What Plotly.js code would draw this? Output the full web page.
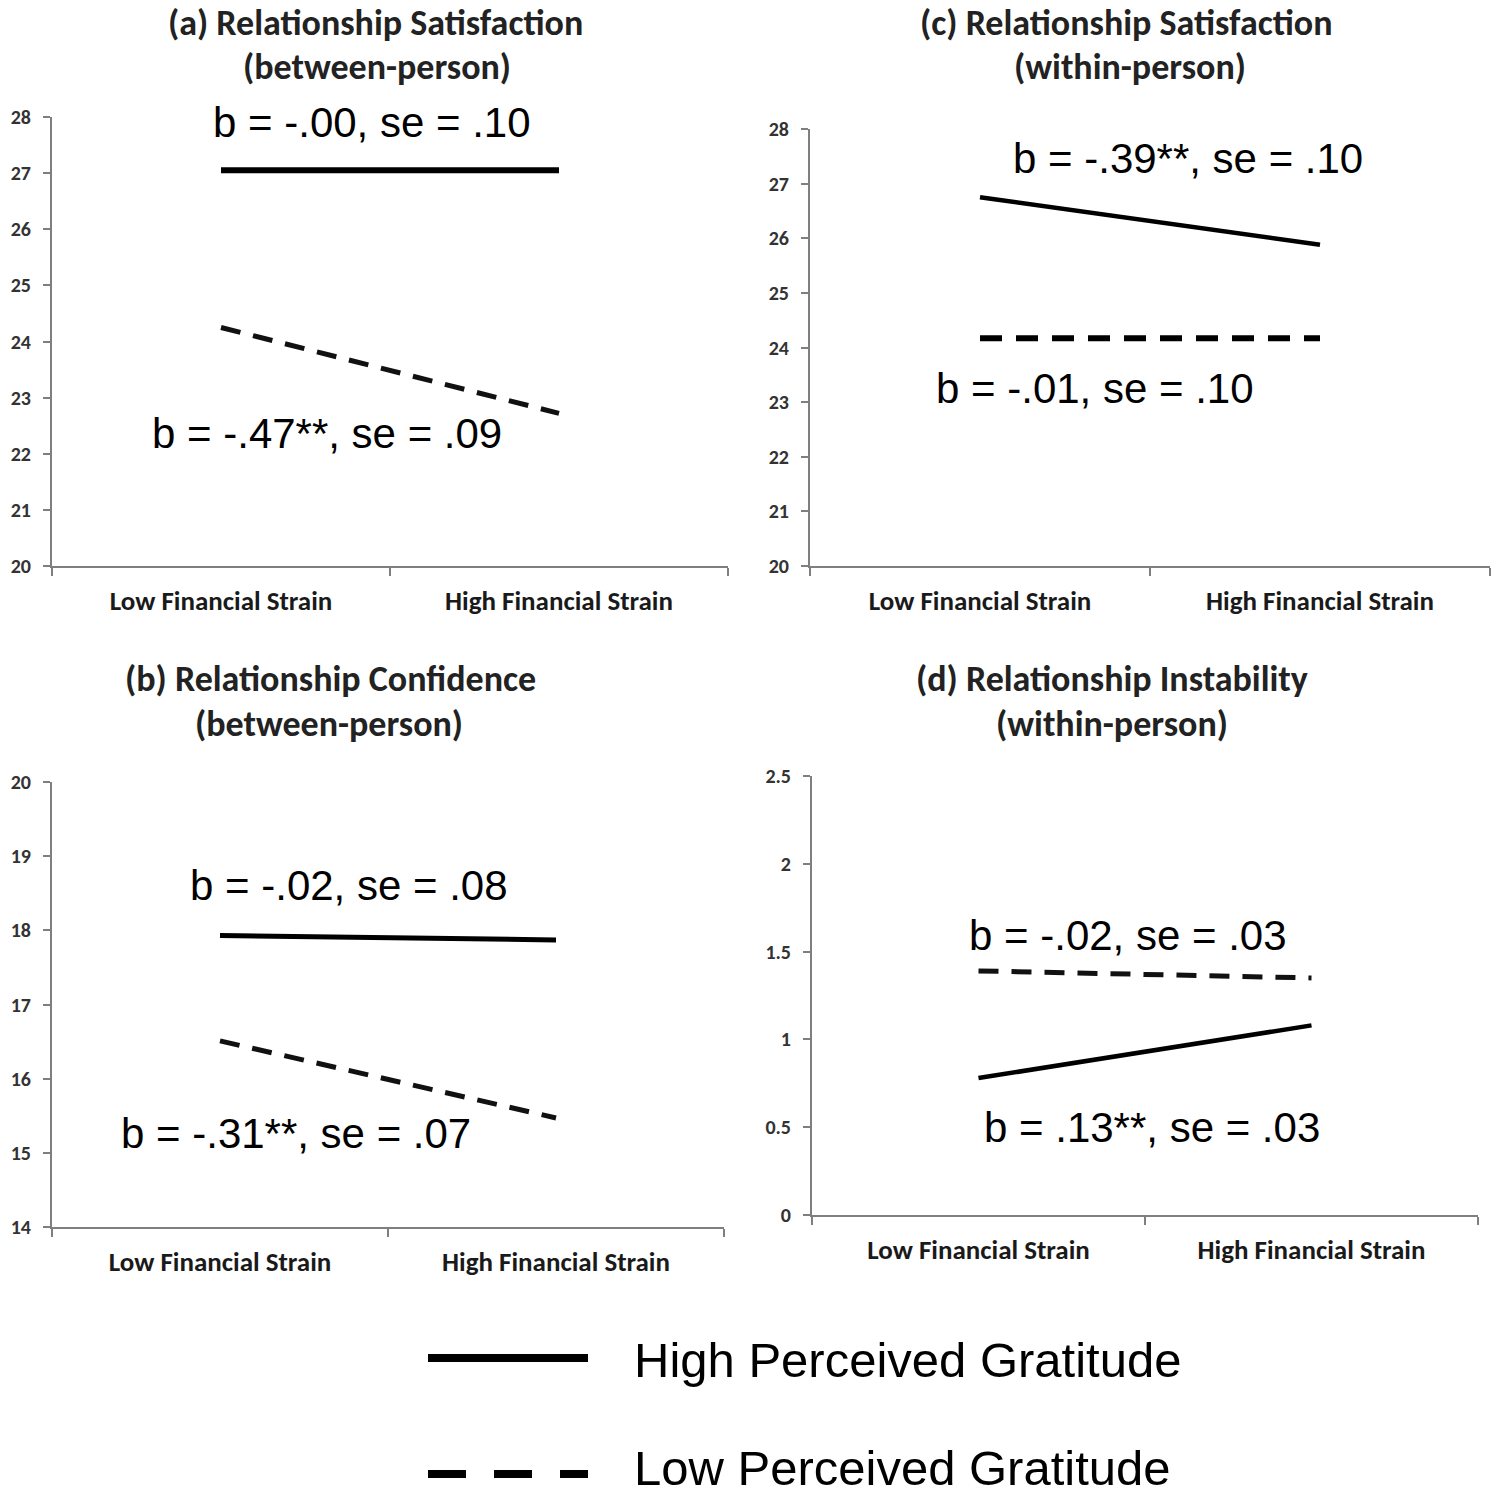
<!DOCTYPE html>
<html>
<head>
<meta charset="utf-8">
<script src="https://cdn.plot.ly/plotly-3.0.1.min.js"></script>
<style>
  html, body { margin: 0; padding: 0; background: #fff; }
  #chart { width: 1493px; height: 1498px; }
</style>
</head>
<body>
<div id="chart"></div>
<script>
var categories = ['Low Financial Strain', 'High Financial Strain'];

// (a) satisfaction, between-person
var highA = [27.05, 27.05];
var lowA = [24.25, 22.72];
// (b) confidence, between-person
var highB = [17.93, 17.87];
var lowB = [16.51, 15.47];
// (c) satisfaction, within-person
var highC = [26.75, 25.88];
var lowC = [24.17, 24.17];
// (d) instability, within-person
var highD = [0.78, 1.08];
var lowD = [1.39, 1.35];

var statsA = ['b = -.00, se = .10', 'b = -.47**, se = .09'];
var statsB = ['b = -.02, se = .08', 'b = -.31**, se = .07'];
var statsC = ['b = -.39**, se = .10', 'b = -.01, se = .10'];
var statsD = ['b = -.02, se = .03', 'b = .13**, se = .03'];

var W = 1493, H = 1498;
function px(x) { return x / W; }
function py(y) { return 1 - y / H; }

var titleFont = 'Carlito, "Liberation Sans Narrow", Lato, sans-serif';

var data = [
  {x: categories, y: highA, xaxis: 'x', yaxis: 'y', mode: 'lines', line: {color: '#000', width: 6}},
  {x: categories, y: lowA, xaxis: 'x', yaxis: 'y', mode: 'lines', line: {color: '#111', width: 5, dash: '20px,13px'}},
  {x: categories, y: highC, xaxis: 'x2', yaxis: 'y2', mode: 'lines', line: {color: '#000', width: 4.5}},
  {x: categories, y: lowC, xaxis: 'x2', yaxis: 'y2', mode: 'lines', line: {color: '#000', width: 6, dash: '22px,14px'}},
  {x: categories, y: highB, xaxis: 'x3', yaxis: 'y3', mode: 'lines', line: {color: '#000', width: 5}},
  {x: categories, y: lowB, xaxis: 'x3', yaxis: 'y3', mode: 'lines', line: {color: '#111', width: 5, dash: '20px,13px'}},
  {x: categories, y: highD, xaxis: 'x4', yaxis: 'y4', mode: 'lines', line: {color: '#000', width: 4.5}},
  {x: categories, y: lowD, xaxis: 'x4', yaxis: 'y4', mode: 'lines', line: {color: '#111', width: 5, dash: '20px,13px'}}
];

function xAxis(d, anchor) {
  return {
    domain: d, anchor: anchor, type: 'category', range: [-0.5, 1.5],
    showline: true, linecolor: '#7f7f7f', linewidth: 2,
    ticks: 'outside', tickson: 'boundaries', ticklen: 8, tickcolor: '#7f7f7f', tickwidth: 2,
    ticklabelstandoff: 10,
    showgrid: false, zeroline: false,
    tickfont: {family: titleFont, size: 27, color: '#1a1a1a', weight: 'bold'}
  };
}
function yAxis(d, anchor, r, dt) {
  return {
    domain: d, anchor: anchor, range: r, dtick: dt, tick0: r[0],
    showline: true, linecolor: '#7f7f7f', linewidth: 2,
    ticks: 'outside', ticklen: 7, tickcolor: '#7f7f7f', tickwidth: 2,
    ticklabelstandoff: 8,
    showgrid: false, zeroline: false,
    tickfont: {family: titleFont, size: 20, color: '#333', weight: 'bold'}
  };
}

var layout = {
  width: W, height: H,
  margin: {l: 0, r: 0, t: 0, b: 0},
  paper_bgcolor: '#fff', plot_bgcolor: 'rgba(0,0,0,0)',
  showlegend: false,
  xaxis: xAxis([px(52), px(728)], 'y'),
  yaxis: yAxis([py(566), py(117)], 'x', [20, 28], 1),
  xaxis2: xAxis([px(810), px(1490)], 'y2'),
  yaxis2: yAxis([py(566), py(129)], 'x2', [20, 28], 1),
  xaxis3: xAxis([px(52), px(724)], 'y3'),
  yaxis3: yAxis([py(1227), py(782)], 'x3', [14, 20], 1),
  xaxis4: xAxis([px(812), px(1478)], 'y4'),
  yaxis4: yAxis([py(1215), py(776)], 'x4', [0, 2.5], 0.5),
  annotations: [],
  shapes: [
    {type: 'line', xref: 'paper', yref: 'paper', x0: px(428), x1: px(588), y0: py(1358), y1: py(1358),
     line: {color: '#000', width: 8}},
    {type: 'line', xref: 'paper', yref: 'paper', x0: px(428), x1: px(588), y0: py(1474), y1: py(1474),
     line: {color: '#000', width: 8, dash: '38px,28px'}}
  ]
};

function note(text, x, y, size, family, color, extra) {
  var a = {xref: 'paper', yref: 'paper', x: px(x), y: py(y), xanchor: 'center', yanchor: 'middle',
    text: text, showarrow: false, font: {family: family, size: size, color: color}};
  for (var k in extra) a[k] = extra[k];
  layout.annotations.push(a);
}

var statFont = '"Liberation Sans", Arial, sans-serif';
note(statsA[0], 372, 123, 42, statFont, '#000');
note(statsA[1], 327, 433, 42, statFont, '#000');
note(statsC[0], 1188, 158, 42, statFont, '#000');
note(statsC[1], 1095, 388, 42, statFont, '#000');
note(statsB[0], 349, 885, 42, statFont, '#000');
note(statsB[1], 296, 1133, 42, statFont, '#000');
note(statsD[0], 1128, 935, 42, statFont, '#000');
note(statsD[1], 1152, 1127, 42, statFont, '#000');

note('<b>(a) Relationship Satisfaction</b>', 376, 23, 36, titleFont, '#222');
note('<b>(between-person)</b>', 377, 67, 36, titleFont, '#222');
note('<b>(c) Relationship Satisfaction</b>', 1126, 23, 36, titleFont, '#222');
note('<b>(within-person)</b>', 1130, 67, 36, titleFont, '#222');
note('<b>(b) Relationship Confidence</b>', 330, 679, 36, titleFont, '#222');
note('<b>(between-person)</b>', 329, 724, 36, titleFont, '#222');
note('<b>(d) Relationship Instability</b>', 1112, 679, 36, titleFont, '#222');
note('<b>(within-person)</b>', 1112, 724, 36, titleFont, '#222');

note('High Perceived Gratitude', 632, 1360, 49, statFont, '#000', {xanchor: 'left'});
note('Low Perceived Gratitude', 632, 1468, 49, statFont, '#000', {xanchor: 'left'});

Plotly.newPlot('chart', data, layout, {displayModeBar: false, staticPlot: true});
</script>
</body>
</html>
